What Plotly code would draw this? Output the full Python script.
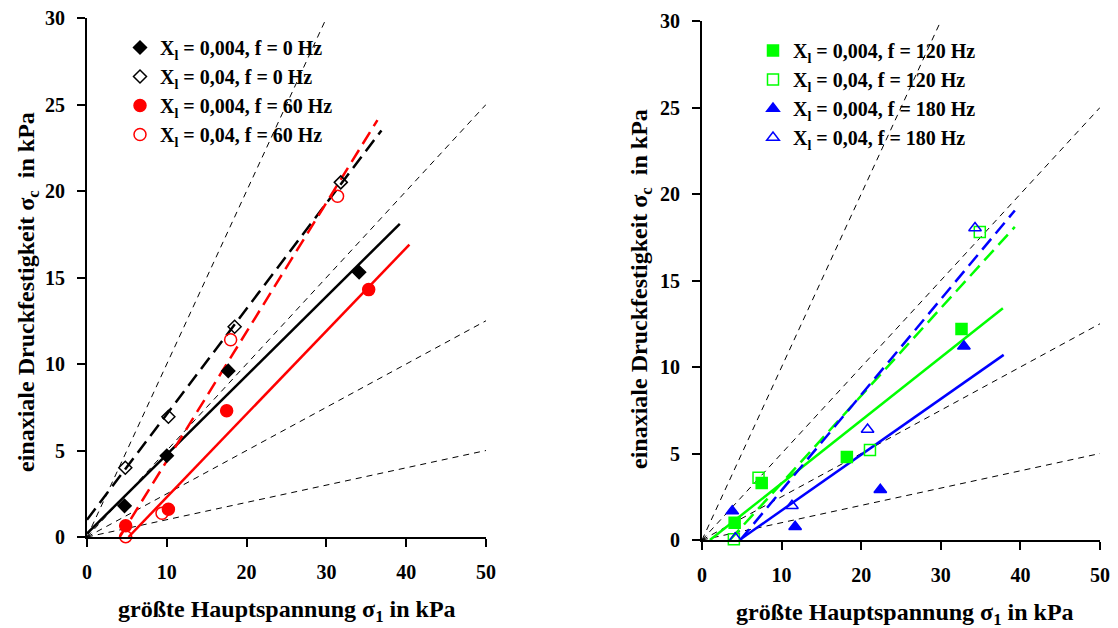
import plotly.graph_objects as go

# ---------------- data: left panel ----------------
x_b_004 = [4.7, 10.0, 17.7, 34.1]
y_b_004 = [1.8, 4.7, 9.6, 15.3]
x_b_04 = [4.8, 10.2, 18.5, 31.8]
y_b_04 = [4.0, 6.95, 12.15, 20.5]
x_r_004 = [4.85, 10.2, 17.5, 35.3]
y_r_004 = [0.65, 1.6, 7.3, 14.3]
x_r_04 = [4.85, 9.4, 18.0, 31.4]
y_r_04 = [0.02, 1.37, 11.4, 19.7]

# fit line end points (left)
fit_b_004_x = [0.0, 39.2]
fit_b_004_y = [0.2, 18.1]
fit_b_04_x = [0.0, 36.9]
fit_b_04_y = [1.0, 23.5]
fit_r_004_x = [5.2, 40.4]
fit_r_004_y = [0.0, 16.9]
fit_r_04_x = [4.1, 36.4]
fit_r_04_y = [0.0, 24.1]

# ---------------- data: right panel ----------------
x_g_004 = [4.1, 7.5, 18.2, 32.6]
y_g_004 = [1.0, 3.3, 4.8, 12.2]
x_g_04 = [4.0, 7.1, 21.1, 34.9]
y_g_04 = [0.04, 3.6, 5.2, 17.8]
x_bl_004 = [3.8, 11.7, 22.4, 32.9]
y_bl_004 = [1.67, 0.77, 2.9, 11.2]
x_bl_04 = [4.2, 11.3, 20.8, 34.3]
y_bl_04 = [0.1, 1.98, 6.39, 18.03]

fit_g_004_x = [1.0, 37.8]
fit_g_004_y = [0.0, 13.4]
fit_g_04_x = [3.5, 39.3]
fit_g_04_y = [0.0, 18.1]
fit_bl_004_x = [4.7, 37.9]
fit_bl_004_y = [0.0, 10.7]
fit_bl_04_x = [4.8, 39.3]
fit_bl_04_y = [0.0, 19.05]

# reference lines through origin (slope, x end)
ref_slopes = [1.0, 0.5, 0.25, 0.1]
ref_xend = [31.0, 50.0, 50.0, 50.0]

legend_left = ["X<sub>l</sub> = 0,004, f = 0 Hz", "X<sub>l</sub> = 0,04, f = 0 Hz",
               "X<sub>l</sub> = 0,004, f = 60 Hz", "X<sub>l</sub> = 0,04, f = 60 Hz"]
legend_right = ["X<sub>l</sub> = 0,004, f = 120 Hz", "X<sub>l</sub> = 0,04, f = 120 Hz",
                "X<sub>l</sub> = 0,004, f = 180 Hz", "X<sub>l</sub> = 0,04, f = 180 Hz"]

FONT = "Liberation Serif"
GREEN = "#00ff00"
BLUE = "#0000ff"
RED = "#ff0000"

fig = go.Figure()

# reference dashed lines
for xa, ya in [("x", "y"), ("x2", "y2")]:
    for s, xe in zip(ref_slopes, ref_xend):
        fig.add_trace(go.Scatter(x=[0, xe], y=[0, s * xe], mode="lines",
                                 line=dict(color="black", width=1, dash="6px,5px"),
                                 xaxis=xa, yaxis=ya, showlegend=False, hoverinfo="skip"))

def fit(xs, ys, color, dashed, xa, ya):
    fig.add_trace(go.Scatter(x=xs, y=ys, mode="lines",
                             line=dict(color=color, width=2.5, dash="14px,7px" if dashed else "solid"),
                             xaxis=xa, yaxis=ya, showlegend=False, hoverinfo="skip"))

fit(fit_b_004_x, fit_b_004_y, "black", False, "x", "y")
fit(fit_b_04_x, fit_b_04_y, "black", True, "x", "y")
fit(fit_r_004_x, fit_r_004_y, RED, False, "x", "y")
fit(fit_r_04_x, fit_r_04_y, RED, True, "x", "y")
fit(fit_g_004_x, fit_g_004_y, GREEN, False, "x2", "y2")
fit(fit_g_04_x, fit_g_04_y, GREEN, True, "x2", "y2")
fit(fit_bl_004_x, fit_bl_004_y, BLUE, False, "x2", "y2")
fit(fit_bl_04_x, fit_bl_04_y, BLUE, True, "x2", "y2")

def pts(xs, ys, name, symbol, color, size, xa, ya, leg, grp):
    fig.add_trace(go.Scatter(x=xs, y=ys, mode="markers", name=name,
                             marker=dict(symbol=symbol, color=color, size=size,
                                         line=dict(color=color, width=1.5)),
                             cliponaxis=False, xaxis=xa, yaxis=ya,
                             legend=leg, legendgroup=grp))

pts(x_b_004, y_b_004, legend_left[0], "diamond", "black", 10, "x", "y", "legend", "a")
pts(x_b_04, y_b_04, legend_left[1], "diamond-open", "black", 10, "x", "y", "legend", "b")
pts(x_r_004, y_r_004, legend_left[2], "circle", RED, 12, "x", "y", "legend", "c")
pts(x_r_04, y_r_04, legend_left[3], "circle-open", RED, 12, "x", "y", "legend", "d")
pts(x_g_004, y_g_004, legend_right[0], "square", GREEN, 11, "x2", "y2", "legend2", "e")
pts(x_g_04, y_g_04, legend_right[1], "square-open", GREEN, 11, "x2", "y2", "legend2", "f")
pts(x_bl_004, y_bl_004, legend_right[2], "triangle-up", BLUE, 11, "x2", "y2", "legend2", "g")
pts(x_bl_04, y_bl_04, legend_right[3], "triangle-up-open", BLUE, 11, "x2", "y2", "legend2", "h")

W, H = 1118, 628
axis_common = dict(showline=True, linecolor="black", linewidth=2, ticks="outside",
                   ticklen=8, tickwidth=2, tickcolor="black", showgrid=False,
                   zeroline=False, automargin=False,
                   tickfont=dict(family=FONT, size=20, color="black", weight="bold"))

fig.update_layout(
    template="none",
    width=W, height=H, margin=dict(l=0, r=0, t=0, b=0, autoexpand=False),
    plot_bgcolor="white", paper_bgcolor="white",
    xaxis=dict(domain=[87 / W, 486 / W], range=[0, 50], dtick=10, anchor="y",
               ticklabelstandoff=8, **axis_common),
    yaxis=dict(domain=[1 - 537 / H, 1 - 18 / H], range=[0, 30], dtick=5, anchor="x",
               ticklabelstandoff=8, **axis_common),
    xaxis2=dict(domain=[702 / W, 1100 / W], range=[0, 50], dtick=10, anchor="y2",
                ticklabelstandoff=8, **axis_common),
    yaxis2=dict(domain=[1 - 540 / H, 1 - 21 / H], range=[0, 30], dtick=5, anchor="x2",
                ticklabelstandoff=8, **axis_common),
    legend=dict(x=120 / W, y=1 - 28 / H, xanchor="left", yanchor="top",
                font=dict(family=FONT, size=20, color="black", weight="bold"),
                bgcolor="rgba(0,0,0,0)", tracegroupgap=0),
    legend2=dict(x=753 / W, y=1 - 31 / H, xanchor="left", yanchor="top",
                 font=dict(family=FONT, size=20, color="black", weight="bold"),
                 bgcolor="rgba(0,0,0,0)", tracegroupgap=0),
    showlegend=True,
)

title_font = dict(family=FONT, size=24, color="black", weight="bold")
ytitle = "einaxiale Druckfestigkeit σ<sub>c</sub>  in kPa"
xtitle = "größte Hauptspannung σ<sub>1</sub> in kPa"
fig.add_annotation(text=ytitle, x=28 / W, y=1 - 292 / H, xref="paper", yref="paper",
                   textangle=-90, showarrow=False, font=title_font, xanchor="center", yanchor="middle")
fig.add_annotation(text=ytitle, x=641 / W, y=1 - 289 / H, xref="paper", yref="paper",
                   textangle=-90, showarrow=False, font=title_font, xanchor="center", yanchor="middle")
fig.add_annotation(text=xtitle, x=287 / W, y=1 - 611 / H, xref="paper", yref="paper",
                   showarrow=False, font=title_font, xanchor="center", yanchor="middle")
fig.add_annotation(text=xtitle, x=905 / W, y=1 - 614 / H, xref="paper", yref="paper",
                   showarrow=False, font=title_font, xanchor="center", yanchor="middle")

fig.write_html("out.html", config={"displayModeBar": False},
               post_script="document.body.style.margin='0';document.body.style.overflow='hidden';")
